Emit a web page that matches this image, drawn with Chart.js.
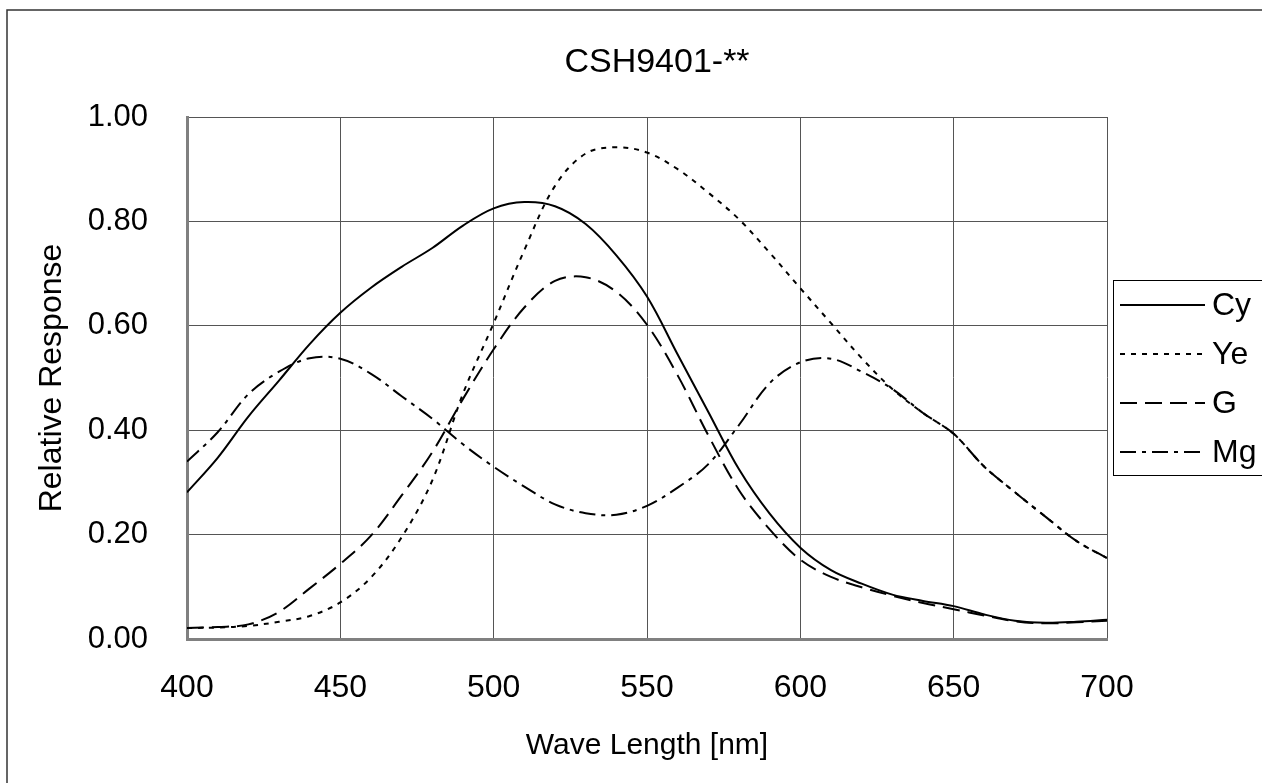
<!DOCTYPE html>
<html>
<head>
<meta charset="utf-8">
<script src="https://cdn.jsdelivr.net/npm/chart.js@4"></script>
<style>
  html, body { margin: 0; padding: 0; background: #fff; }
  #wrap { width: 1262px; height: 783px; }
</style>
</head>
<body>
<div id="wrap"><canvas id="myChart" width="1262" height="783"></canvas></div>
<script>
// wavelength in nm
const waveLength = [400, 410, 420, 430, 440, 450, 460, 470, 480, 490, 500,
  510, 520, 530, 540, 550, 560, 570, 580, 590, 600,
  610, 620, 630, 640, 650, 660, 670, 680, 690, 700];

const cy = [0.281, 0.347, 0.426, 0.495, 0.565, 0.625, 0.673, 0.713, 0.749, 0.792, 0.825,
  0.837, 0.829, 0.795, 0.735, 0.656, 0.545, 0.435, 0.325, 0.240, 0.175,
  0.132, 0.106, 0.085, 0.073, 0.063, 0.047, 0.035, 0.031, 0.033, 0.037];
const ye = [0.021, 0.022, 0.025, 0.033, 0.044, 0.070, 0.118, 0.195, 0.304, 0.470, 0.605,
  0.745, 0.868, 0.930, 0.942, 0.932, 0.900, 0.855, 0.804, 0.740, 0.672,
  0.605, 0.538, 0.479, 0.433, 0.393, 0.330, 0.281, 0.234, 0.188, 0.155];
const g = [0.021, 0.023, 0.028, 0.052, 0.097, 0.144, 0.198, 0.275, 0.358, 0.460, 0.555,
  0.635, 0.686, 0.693, 0.665, 0.602, 0.505, 0.390, 0.285, 0.210, 0.152,
  0.119, 0.099, 0.083, 0.069, 0.057, 0.045, 0.034, 0.030, 0.032, 0.035];
const mg = [0.340, 0.396, 0.469, 0.512, 0.538, 0.537, 0.508, 0.465, 0.422, 0.373, 0.330,
  0.292, 0.258, 0.241, 0.238, 0.255, 0.290, 0.335, 0.410, 0.490, 0.530,
  0.537, 0.512, 0.479, 0.433, 0.393, 0.330, 0.281, 0.234, 0.188, 0.155];

const seriesNames = ["Cy", "Ye", "G", "Mg"];
const xTicks = [400, 450, 500, 550, 600, 650, 700];
const yTicks = [0, 0.2, 0.4, 0.6, 0.8, 1.0];
const chartTitle = "CSH9401-**";

const FONT = "'Liberation Sans', Arial, sans-serif";

function pts(vals) {
  return vals.map((v, i) => ({ x: waveLength[i], y: v }));
}

const dashes = [[], [5, 6], [17, 8], [16, 6, 4, 6]];
const allVals = [cy, ye, g, mg];

const datasets = seriesNames.map((name, i) => ({
  label: name,
  data: pts(allVals[i]),
  borderColor: "#000",
  borderWidth: 2,
  borderDash: dashes[i],
  pointRadius: 0,
  fill: false,
  tension: 0.35,
}));

// frame, title and legend box
const extras = {
  id: "extras",
  afterDraw(chart) {
    const ctx = chart.ctx;
    ctx.save();
    ctx.strokeStyle = "#333";
    ctx.lineWidth = 1.5;
    ctx.strokeRect(7, 10, 1400, 1000);

    ctx.fillStyle = "#000";
    ctx.font = "34px " + FONT;
    ctx.textAlign = "center";
    ctx.textBaseline = "middle";
    ctx.fillText(chartTitle, 657, 63);

    // legend
    ctx.textAlign = "left";
    ctx.strokeStyle = "#000";
    ctx.lineWidth = 1;
    ctx.strokeRect(1113.5, 280.5, 200, 195);
    ctx.font = "32px " + FONT;
    const rows = [305, 354, 403, 452];
    chart.data.datasets.forEach((ds, i) => {
      ctx.beginPath();
      ctx.setLineDash(ds.borderDash);
      ctx.lineWidth = 2;
      ctx.moveTo(1120, rows[i]);
      ctx.lineTo(1205, rows[i]);
      ctx.stroke();
      ctx.setLineDash([]);
      ctx.fillText(ds.label, 1212, rows[i] + 1);
    });
    ctx.restore();
  },
};

const config = {
  type: "line",
  data: { datasets: datasets },
  options: {
    responsive: false,
    animation: false,
    layout: { padding: { left: 0, right: 155, top: 117, bottom: 0 } },
    plugins: {
      legend: { display: false },
      tooltip: { enabled: false },
      title: { display: false },
    },
    scales: {
      x: {
        type: "linear",
        min: 400,
        max: 700,
        afterBuildTicks: (s) => { s.ticks = xTicks.map((v) => ({ value: v })); },
        afterFit: (s) => { s.height = 144; },
        ticks: {
          color: "#000",
          padding: 30,
          font: { family: FONT, size: 32 },
        },
        grid: { color: "#555", lineWidth: 1, drawTicks: false },
        border: { color: "#808080", width: 3 },
        title: {
          display: true,
          text: "Wave Length [nm]",
          color: "#000",
          font: { family: FONT, size: 30 },
          padding: { top: 0, bottom: 19 },
        },
      },
      y: {
        min: 0,
        max: 1,
        afterBuildTicks: (s) => { s.ticks = yTicks.map((v) => ({ value: v })); },
        afterFit: (s) => { s.width = 187; },
        ticks: {
          color: "#000",
          padding: 39,
          font: { family: FONT, size: 31 },
          callback: (v) => v.toFixed(2),
        },
        grid: { color: "#555", lineWidth: 1, drawTicks: false },
        border: { color: "#808080", width: 3 },
        title: {
          display: true,
          text: "Relative Response",
          color: "#000",
          font: { family: FONT, size: 32 },
          padding: { top: 33, bottom: 0 },
        },
      },
    },
  },
  plugins: [extras],
};

new Chart(document.getElementById("myChart"), config);
</script>
</body>
</html>
